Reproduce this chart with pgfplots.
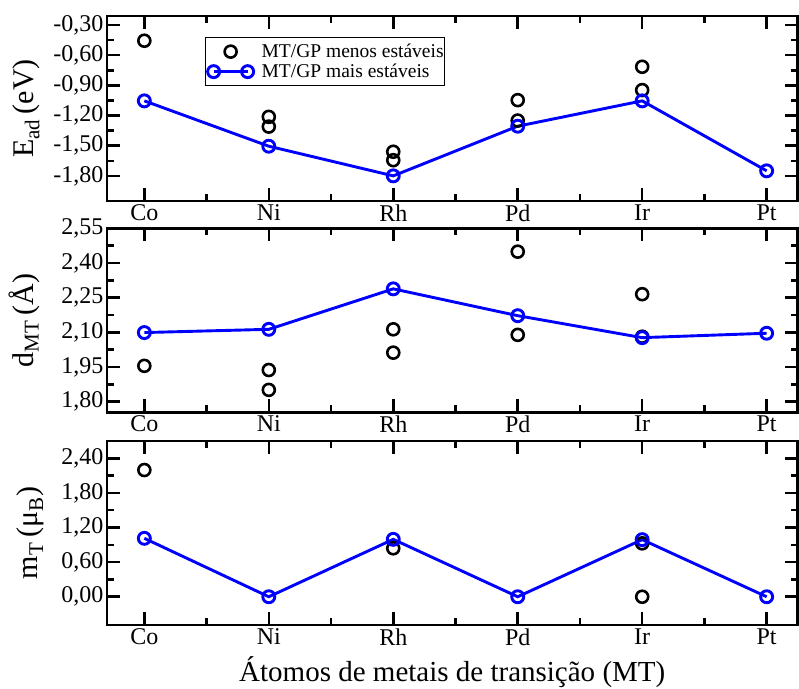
\documentclass[border=0pt]{standalone}
\usepackage{fontspec}
\setmainfont{Liberation Serif}
\usepackage{pgfplots}
\pgfplotsset{compat=1.18}
\definecolor{myblue}{RGB}{0,0,255}

\pgfplotsset{
  panel/.style={
    scale only axis, width=690.5pt, xmin=-0.3, xmax=5.248,
    xtick={0,1,2,3,4,5}, xticklabels={Co,Ni,Rh,Pd,Ir,Pt},
    minor x tick num=1, minor y tick num=1,
    major tick length=13pt, minor tick length=7pt,
    axis line style={line width=2.6pt},
    every tick/.style={black, line width=2.5pt},
    ticklabel style={font=\fontsize{24}{28}\selectfont},
    ylabel style={font=\fontsize{30}{34}\selectfont, anchor=base, inner sep=0pt},
    clip=false,
  },
  lessstable/.style={only marks, mark=o, black, mark size=6pt, line width=2.6pt},
  morestable/.style={myblue, mark=o, mark size=6pt, line width=2.9pt},
  legmark/.style={legend image code/.code={%
      \path[draw=none] (-8pt,-10pt) rectangle (47pt,10pt);
      \draw[##1] plot coordinates {(17pt,0pt)};}},
  legline/.style={legend image code/.code={%
      \path[draw=none] (-8pt,-10pt) rectangle (47pt,10pt);
      \draw[##1, mark repeat=1] plot coordinates {(0pt,0pt) (34pt,0pt)};}},
}

\begin{document}
\begin{tikzpicture}
% ---------------- Panel 1: E_ad ----------------
\begin{axis}[panel, name=p1, at={(107pt,-16pt)}, anchor=north west, height=185pt,
  ymin=-2.05, ymax=-0.21,
  ytick={-1.8,-1.5,-1.2,-0.9,-0.6,-0.3},
  yticklabels={{-1,80},{-1,50},{-1,20},{-0,90},{-0,60},{-0,30}},
  ylabel={E\textsubscript{ad}\,(eV)},
  ylabel style={at={(axis description cs:-0.1067,0.5)}},
  legend style={at={(axis description cs:0.1419,0.8865)}, anchor=north west,
    draw=black, line width=1.3pt, fill=white, inner xsep=0pt, inner ysep=4pt,
    nodes={inner sep=1pt, draw=none, fill=none},
    font=\fontsize{19.5}{22}\selectfont, cells={anchor=west},
    row sep=0pt},
]
\addplot[lessstable, legmark]
  coordinates {(0,-0.456) (1,-1.213) (1,-1.31) (2,-1.56) (2,-1.644)
               (3,-1.047) (3,-1.25) (4,-0.715) (4,-0.947)};
\addlegendentry{MT/GP menos estáveis\hspace{7pt}}
\addplot[morestable, legline]
  coordinates {(0,-1.054) (1,-1.505) (2,-1.80) (3,-1.306) (4,-1.054) (5,-1.75)};
\addlegendentry{MT/GP mais estáveis}
\end{axis}

% ---------------- Panel 2: d_MT ----------------
\begin{axis}[panel, at={(107pt,-228.3pt)}, anchor=north west, height=184pt,
  ymin=1.754, ymax=2.55,
  ytick={1.8,1.95,2.1,2.25,2.4,2.55},
  yticklabels={{1,80},{1,95},{2,10},{2,25},{2,40},{2,55}},
  ylabel={d\textsubscript{MT}\,(Å)},
  ylabel style={at={(axis description cs:-0.1065,0.5)}},
]
\addplot[lessstable]
  coordinates {(0,1.955) (1,1.937) (1,1.851) (2,2.113) (2,2.012)
               (3,2.449) (3,2.089) (4,2.265) (4,2.081)};
\addplot[morestable]
  coordinates {(0,2.099) (1,2.113) (2,2.288) (3,2.172) (4,2.077) (5,2.096)};
\end{axis}

% ---------------- Panel 3: m_T ----------------
\begin{axis}[panel, at={(107pt,-441pt)}, anchor=north west, height=184pt,
  ymin=-0.49, ymax=2.7,
  ytick={0,0.6,1.2,1.8,2.4},
  yticklabels={{0,00},{0,60},{1,20},{1,80},{2,40}},
  ylabel={m\textsubscript{T}\,(μ\textsubscript{B})},
  ylabel style={at={(axis description cs:-0.100,0.5)}},
  xlabel={Átomos de metais de transição (MT)},
  xlabel style={at={(axis description cs:0.5,-0.307)}, anchor=base, inner sep=0pt,
    font=\fontsize{29}{33}\selectfont},
]
\addplot[lessstable]
  coordinates {(0,2.197) (2,0.84) (4,0.926) (4,0)};
\addplot[morestable]
  coordinates {(0,1.013) (1,0) (2,0.995) (3,0) (4,0.99) (5,0)};
\end{axis}

\useasboundingbox (0pt,0pt) rectangle (799pt,-688pt);
\end{tikzpicture}
\end{document}
